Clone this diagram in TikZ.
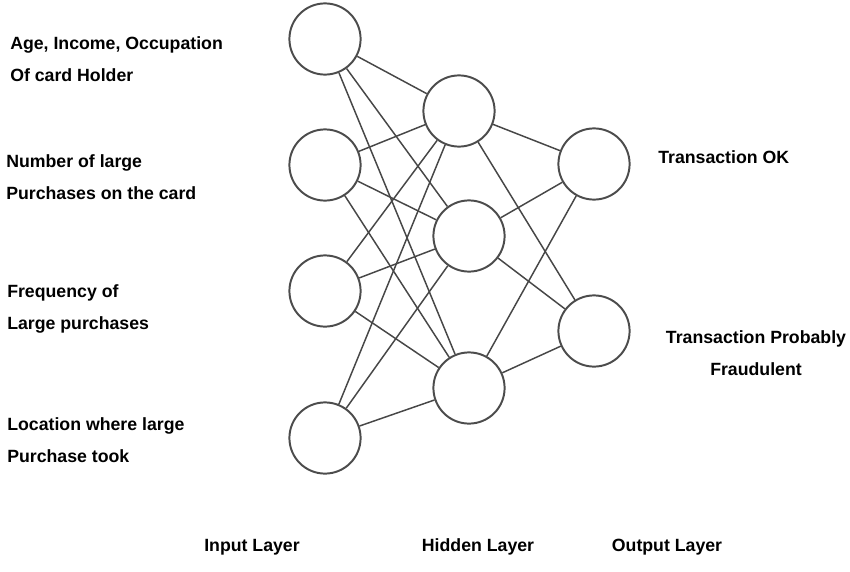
\documentclass[tikz,border=0pt]{standalone}
\usepackage{fontspec}
\setmainfont{Liberation Sans}
\usetikzlibrary{positioning}
\tikzset{
  neuron/.style={draw=black!70, line width=1.4pt, circle, minimum size=1.78cm, inner sep=0pt},
  conn/.style={draw=black!72, line width=1.05pt},
  inlabel/.style={font=\bfseries\fontsize{12.6}{22.8}\selectfont, align=left, anchor=west, inner sep=0pt},
  outlabel/.style={font=\bfseries\fontsize{12.6}{22.8}\selectfont, align=center, inner sep=0pt},
  layerlabel/.style={font=\bfseries\fontsize{12.6}{15}\selectfont, inner sep=0pt}
}
\begin{document}
\begin{tikzpicture}[x=1cm, y=1cm]
  \useasboundingbox (0,0) rectangle (21.25,14.275);

  % Input layer
  \node[neuron] (i1) at (8.125,13.3) {};
  \node[neuron] (i2) at (8.125,10.15) {};
  \node[neuron] (i3) at (8.125,7.0) {};
  \node[neuron] (i4) at (8.125,3.325) {};

  % Hidden layer
  \node[neuron] (h1) at (11.475,11.5) {};
  \node[neuron] (h2) at (11.725,8.375) {};
  \node[neuron] (h3) at (11.725,4.575) {};

  % Output layer
  \node[neuron] (o1) at (14.85,10.175) {};
  \node[neuron] (o2) at (14.85,6.0) {};

  % Input to hidden connections
  \draw[conn] (i1) -- (h1) (i1) -- (h2) (i1) -- (h3);
  \draw[conn] (i2) -- (h1) (i2) -- (h2) (i2) -- (h3);
  \draw[conn] (i3) -- (h1) (i3) -- (h2) (i3) -- (h3);
  \draw[conn] (i4) -- (h1) (i4) -- (h2) (i4) -- (h3);

  % Hidden to output connections
  \draw[conn] (h1) -- (o1) (h1) -- (o2);
  \draw[conn] (h2) -- (o1) (h2) -- (o2);
  \draw[conn] (h3) -- (o1) (h3) -- (o2);

  % Input descriptions
  \node[inlabel] (lab1) at (0.25,12.8) {Age, Income, Occupation\\Of card Holder};
  \node[inlabel] (lab2) at (0.15,9.85) {Number of large\\Purchases on the card};
  \node[inlabel] (lab3) at (0.175,6.55) {Frequency of\\Large purchases};
  \node[inlabel] (lab4) at (0.175,3.28) {Location where large\\Purchase took};

  % Output descriptions
  \node[inlabel] (ok) at (16.45,10.35) {Transaction OK};
  \node[outlabel] (fraud) at (18.9,5.45) {Transaction Probably\\Fraudulent};

  % Layer names
  \node[layerlabel] (inlayer) at (6.3,0.6) {Input Layer};
  \node[layerlabel] (hidlayer) at (11.95,0.6) {Hidden Layer};
  \node[layerlabel] (outlayer) at (16.675,0.6) {Output Layer};
\end{tikzpicture}
\end{document}
